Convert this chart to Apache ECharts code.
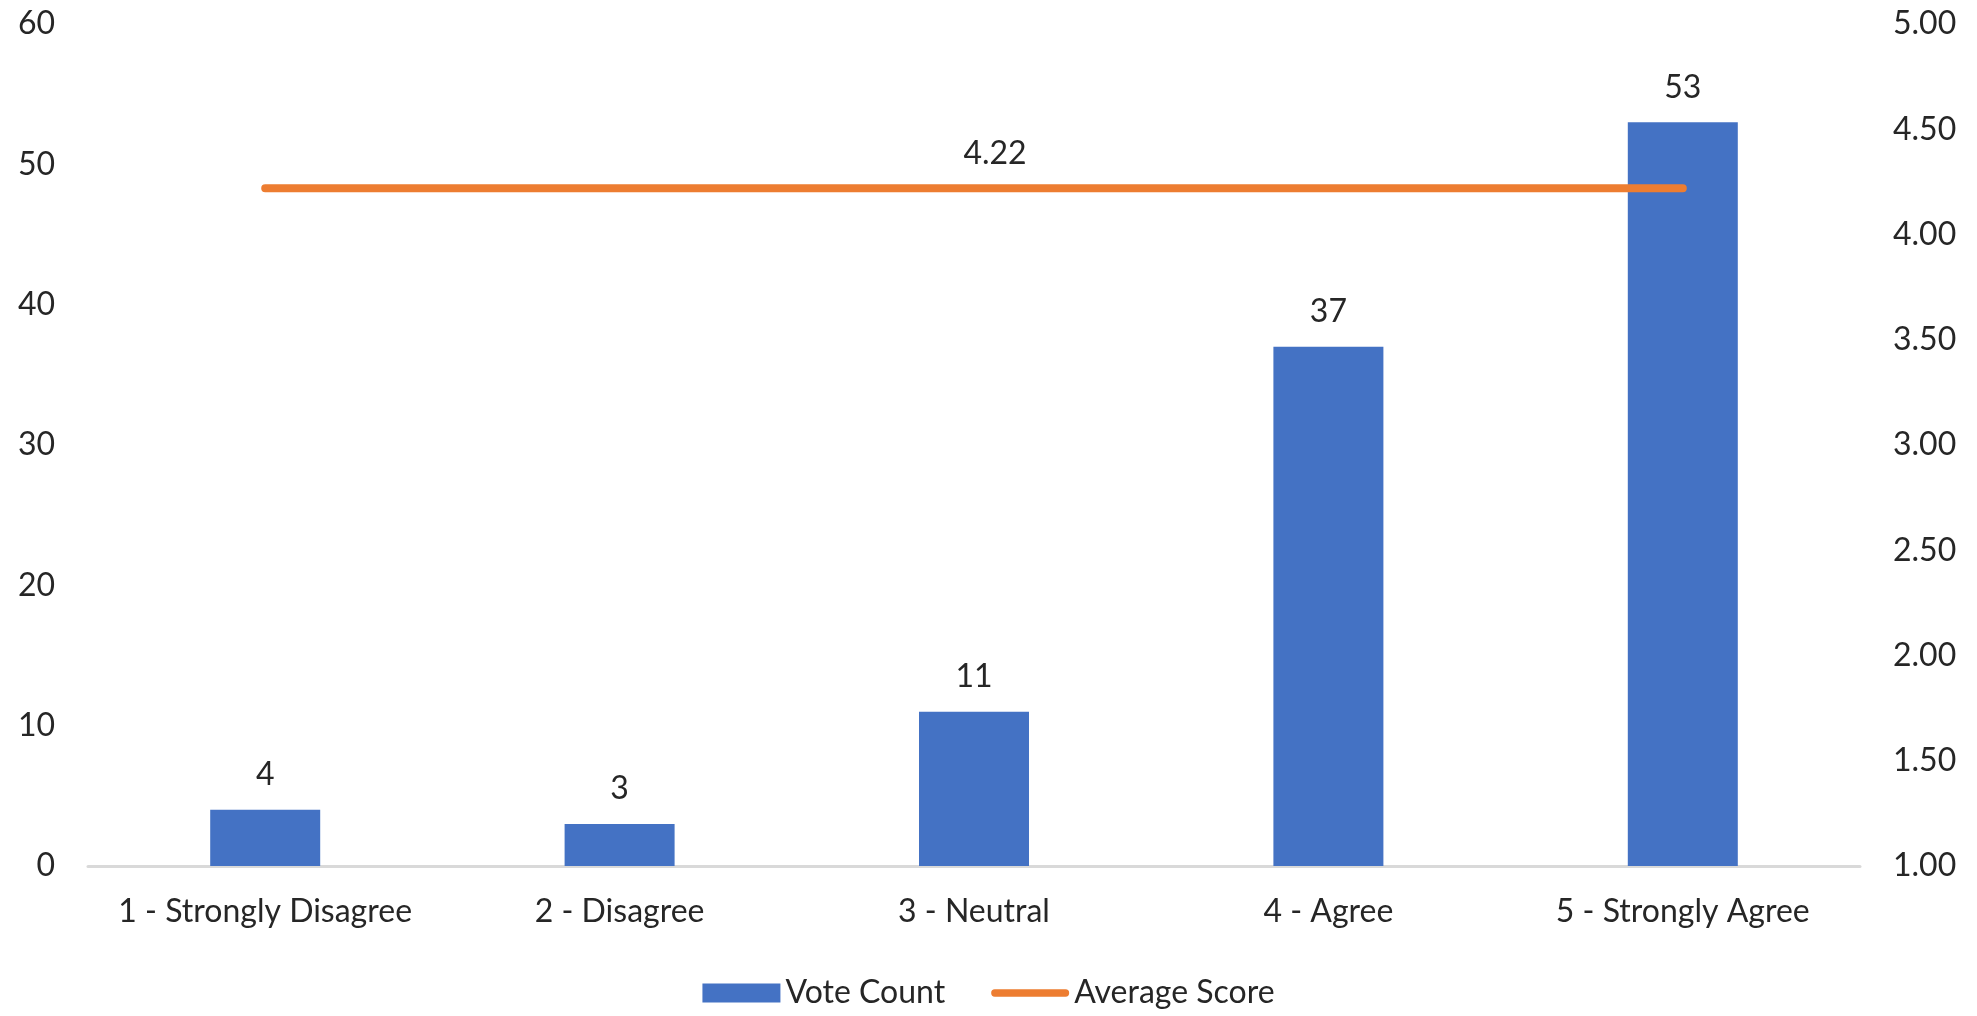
<!DOCTYPE html>
<html>
<head>
<meta charset="utf-8">
<title>Vote Count and Average Score</title>
<script src="https://cdn.jsdelivr.net/npm/echarts@6/dist/echarts.min.js"></script>
<style>
  html, body { margin: 0; padding: 0; background: #ffffff; }
  #chart { width: 1977px; height: 1016px; }
</style>
</head>
<body>
<div id="chart"></div>
<script>
// Survey responses per answer option
const categories = ['1 - Strongly Disagree', '2 - Disagree', '3 - Neutral', '4 - Agree', '5 - Strongly Agree'];
const voteCounts = [4, 3, 11, 37, 53];
const averageScore = [4.22, 4.22, 4.22, 4.22, 4.22];
const averageLabelIndex = 2;

const textColor = '#262626';
const fontFamily = 'Lato, "Open Sans", sans-serif';
const fontSize = 32;

// rounded stroke used as the legend swatch of the average line
const lineIcon = 'path://M4,0 H81 A4,4 0 0 1 81,8 H4 A4,4 0 0 1 4,0 Z';

const chart = echarts.init(document.getElementById('chart'), null, { renderer: 'canvas' });

chart.setOption({
  backgroundColor: '#ffffff',
  textStyle: { fontFamily: fontFamily, color: textColor },
  grid: { left: 88, right: 117, top: 24, bottom: 150, containLabel: false },
  legend: {
    bottom: 2,
    left: 'center',
    itemWidth: 78,
    itemHeight: 19,
    itemGap: 46,
    symbolKeepAspect: true,
    textStyle: { fontSize: fontSize, color: textColor, fontFamily: fontFamily },
    data: [
      { name: 'Vote Count', icon: 'rect' },
      { name: 'Average Score', icon: lineIcon }
    ]
  },
  xAxis: {
    type: 'category',
    data: categories,
    axisLine: { show: true, lineStyle: { color: '#d9d9d9', width: 3 } },
    axisTick: { show: false },
    axisLabel: { interval: 0, fontSize: fontSize, color: textColor, margin: 30, fontFamily: fontFamily }
  },
  yAxis: [
    {
      type: 'value',
      min: 0,
      max: 60,
      interval: 10,
      splitLine: { show: false },
      axisLine: { show: false },
      axisTick: { show: false },
      axisLabel: { fontSize: fontSize, color: textColor, margin: 33, fontFamily: fontFamily }
    },
    {
      type: 'value',
      min: 1,
      max: 5,
      interval: 0.5,
      position: 'right',
      splitLine: { show: false },
      axisLine: { show: false },
      axisTick: { show: false },
      axisLabel: {
        fontSize: fontSize, color: textColor, margin: 33, fontFamily: fontFamily,
        formatter: v => v.toFixed(2)
      }
    }
  ],
  series: [
    {
      name: 'Vote Count',
      type: 'bar',
      yAxisIndex: 0,
      data: voteCounts,
      barWidth: 110,
      itemStyle: { color: '#4472C4' },
      label: {
        show: true,
        position: 'top',
        distance: 19,
        fontSize: fontSize,
        color: textColor,
        fontFamily: fontFamily
      }
    },
    {
      name: 'Average Score',
      type: 'line',
      yAxisIndex: 1,
      symbol: 'circle',
      symbolSize: 0,
      showSymbol: true,
      itemStyle: { color: '#ED7D31' },
      lineStyle: { color: '#ED7D31', width: 8, cap: 'round' },
      data: averageScore.map((v, i) => ({
        value: v,
        label: i === averageLabelIndex ? {
          show: true,
          position: 'top',
          distance: 19,
          offset: [21, 0],
          fontSize: fontSize,
          color: textColor,
          fontFamily: fontFamily,
          formatter: p => p.value.toFixed(2)
        } : { show: false }
      })),
      z: 3
    }
  ]
});
</script>
</body>
</html>
